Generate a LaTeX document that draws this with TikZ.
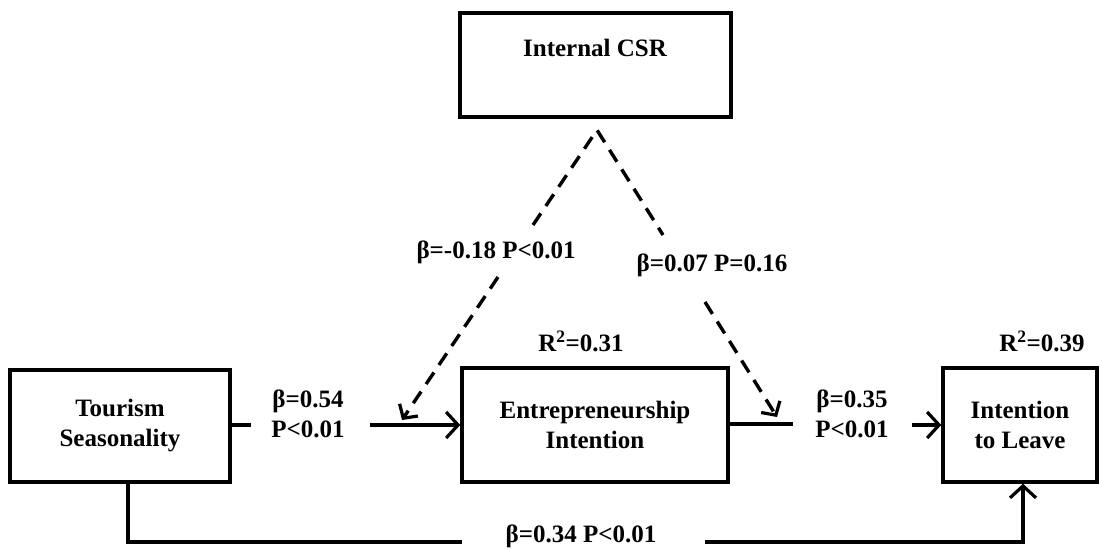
\documentclass[tikz,border=0pt]{standalone}
\usepackage{fontspec}
\setmainfont{Liberation Serif}
\usetikzlibrary{arrows.meta}
\begin{document}
\begin{tikzpicture}[x=1pt,y=-1pt,
  font=\fontsize{25}{30}\selectfont\bfseries,
  box/.style={draw,line width=3.4pt,rectangle,inner sep=0pt,align=center},
  lbl/.style={align=center,inner sep=0pt},
  conn/.style={line width=3.4pt},
  arr/.style={conn,-{Straight Barb[length=12pt,width=26pt,line width=3.2pt]}},
  darr/.style={line width=3.4pt,dash pattern=on 14pt off 9pt,-{Straight Barb[length=10pt,width=22pt,line width=3.2pt]}},
  dln/.style={line width=3.4pt,dash pattern=on 14pt off 9pt}]
\useasboundingbox (0,0) rectangle (1102,549);
% boxes
\node[box,minimum width=271pt,minimum height=104pt] (csr) at (595.5,65) {};
\node[lbl] (csrt) at (595,48) {Internal CSR};
\node[box,minimum width=220pt,minimum height=112pt] (ts) at (120,426) {Tourism\\Seasonality};
\node[box,minimum width=266pt,minimum height=114pt] (ei) at (595,425) {Entrepreneurship\\Intention};
\node[box,minimum width=154pt,minimum height=114pt] (itl) at (1020,425) {Intention\\to Leave};
% R2 labels
\node[lbl] (r1) at (581,341) {R$^{\mathbf{2}}$=0.31};
\node[lbl] (r2) at (1042,341) {R$^{\mathbf{2}}$=0.39};
% path labels
\node[lbl] (l1) at (308,414) {β=0.54\\P<0.01};
\node[lbl] (l2) at (852,414) {β=0.35\\P<0.01};
\node[lbl] (l3) at (581,536) {β=0.34 P<0.01};
\node[lbl] (l4) at (496,252) {β=-0.18 P<0.01};
\node[lbl] (l5) at (712,265) {β=0.07 P=0.16};
% coordinates
\coordinate (a1) at (251,425);
\coordinate (a2) at (370,425);
\coordinate (b1) at (793,424);
\coordinate (b2) at (912,425);
\coordinate (c0) at (128,542);
\coordinate (c1) at (462,542);
\coordinate (c2) at (705,542);
\coordinate (c3) at (1023,542);
\coordinate (apex) at (597,130);
\coordinate (g1) at (533,225);
\coordinate (g2) at (498,277);
\coordinate (t1) at (402,420);
\coordinate (g3) at (663,235);
\coordinate (g4) at (705,302);
\coordinate (t2) at (777,417);
% connectors
\draw[conn] (ts.east |- a1) -- (a1);
\draw[arr] (a2) -- (ei.west |- a2);
\draw[conn] (ei.east |- b1) -- (b1);
\draw[arr] (b2) -- (itl.west |- b2);
\draw[conn] (ts.south -| c0) -- (c0) -- (c1);
\draw[arr] (c2) -- (c3) -- (itl.south -| c3);
\draw[dln,line join=miter] (g1) -- (apex) -- (g3);
\draw[darr] (g2) -- (t1);
\draw[darr] (g4) -- (t2);
\end{tikzpicture}
\end{document}
